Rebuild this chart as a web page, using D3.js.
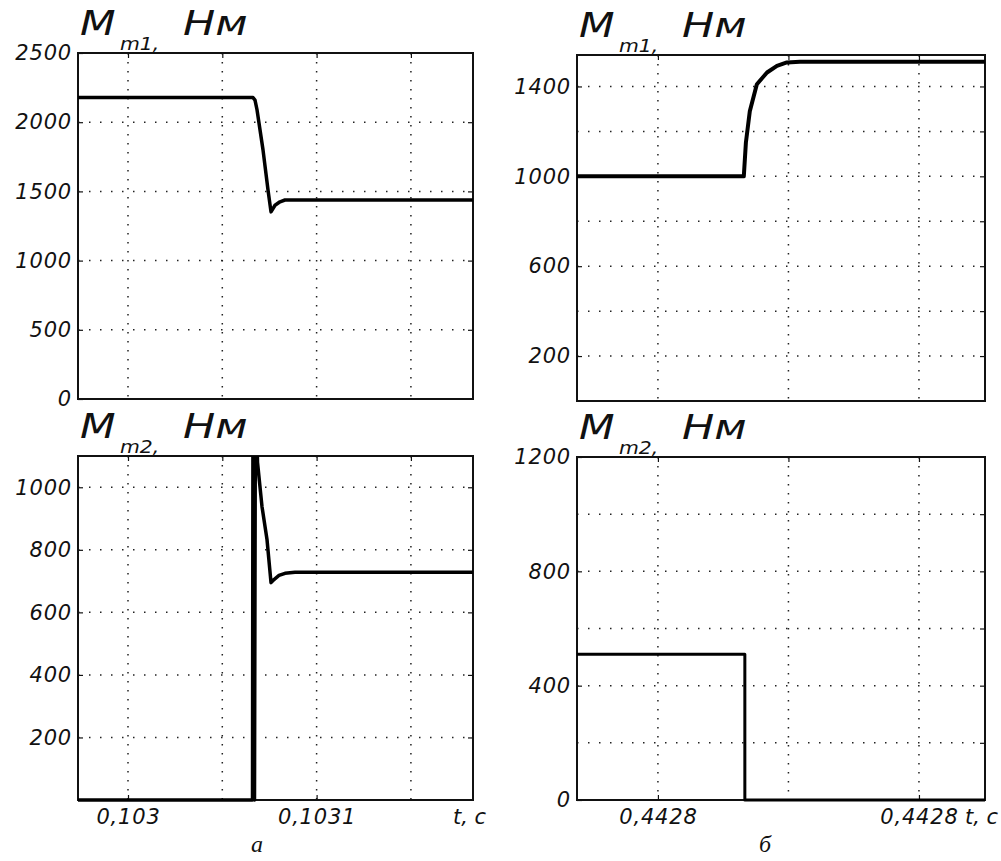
<!DOCTYPE html>
<html>
<head>
<meta charset="utf-8">
<script src="https://cdn.jsdelivr.net/npm/d3@7/dist/d3.min.js"></script>
<style>
  body { margin: 0; background: #fff; }
  svg { display: block; }
  .tick text { font-family: "DejaVu Sans", sans-serif; font-style: italic; font-size: 21px; fill: #111; letter-spacing: 0.8px; }
  .ttl { font-family: "DejaVu Sans", sans-serif; font-style: italic; fill: #111; }
  .cap { font-family: "Liberation Serif", serif; font-style: italic; font-size: 24px; fill: #111; }
</style>
</head>
<body>
<svg id="chart" width="1001" height="861"></svg>
<script>
// panel a, top: M_m1 (time in s, torque in Nm)
var a1Time = [0.10297349, 0.10306628, 0.10306734, 0.1030684, 0.10307158, 0.10307423,
              0.10307582, 0.10307794, 0.10308059, 0.10308324, 0.10318292];
var a1Torque = [2178, 2178, 2160, 2090, 1800, 1510, 1352, 1400, 1425, 1438, 1438];

// panel a, bottom: M_m2
var a2Time = [0.10297349, 0.10306601, 0.10306628, 0.10306707, 0.1030676, 0.10306866,
              0.10307105, 0.1030737, 0.10307582, 0.10307741, 0.10308006, 0.10308324,
              0.10308854, 0.10318292];
var a2Torque = [0, 0, 1400, 0, 1400, 1080, 938, 833, 695, 705, 718, 725, 728, 728];

// panel б, top: M_m1
var b1Time = [0.4427969, 0.44280329, 0.44280337, 0.44280352, 0.44280379, 0.44280418,
              0.44280456, 0.44280494, 0.44280544, 0.44281253];
var b1Torque = [1000, 1000, 1150, 1290, 1410, 1462, 1492, 1507, 1510, 1510];

// panel б, bottom: M_m2
var b2Time = [0.4427969, 0.44280333, 0.44280333, 0.44281253];
var b2Torque = [510, 510, 0, 0];

var aDomain = [0.10297349, 0.10318292];
var bDomain = [0.4427969, 0.44281253];

var aGridX = [0.103, 0.10305, 0.1031, 0.10315];
var bGridX = [0.4428, 0.442805, 0.44281];
var aTickX = [0.103, 0.1031];
var aTickXLabels = ['0,103', '0,1031'];
var bTickX = [0.4428, 0.44281];
var bTickXLabels = ['0,4428', '0,4428'];

var a1TickY = [0, 500, 1000, 1500, 2000, 2500];
var a1GridY = [500, 1000, 1500, 2000];
var a2TickY = [200, 400, 600, 800, 1000];
var a2GridY = [200, 400, 600, 800, 1000];
var b1TickY = [200, 600, 1000, 1400];
var b1GridY = [200, 400, 600, 800, 1000, 1200, 1400];
var b2TickY = [0, 400, 800, 1200];
var b2GridY = [200, 400, 600, 800, 1000];

var svg = d3.select('#chart');

var panels = [
  { id: 'a1', x0: 78, x1: 473, y0: 53, y1: 399, xd: aDomain, yd: [0, 2500],
    t: a1Time, v: a1Torque, gx: aGridX, gy: a1GridY, ty: a1TickY, lw: 3.5, sub: 'm1,' },
  { id: 'a2', x0: 78, x1: 473, y0: 456, y1: 800, xd: aDomain, yd: [0, 1100],
    t: a2Time, v: a2Torque, gx: aGridX, gy: a2GridY, ty: a2TickY, lw: 3.5, sub: 'm2,',
    tx: aTickX, txl: aTickXLabels },
  { id: 'b1', x0: 577, x1: 985, y0: 55, y1: 401, xd: bDomain, yd: [0, 1540],
    t: b1Time, v: b1Torque, gx: bGridX, gy: b1GridY, ty: b1TickY, lw: 4, sub: 'm1,' },
  { id: 'b2', x0: 577, x1: 985, y0: 457, y1: 800, xd: bDomain, yd: [0, 1200],
    t: b2Time, v: b2Torque, gx: bGridX, gy: b2GridY, ty: b2TickY, lw: 3, sub: 'm2,',
    tx: bTickX, txl: bTickXLabels }
];

panels.forEach(function(p) {
  var x = d3.scaleLinear().domain(p.xd).range([p.x0, p.x1]);
  var y = d3.scaleLinear().domain(p.yd).range([p.y1, p.y0]);
  var g = svg.append('g');

  g.append('clipPath').attr('id', 'clip-' + p.id)
    .append('rect')
    .attr('x', p.x0).attr('y', p.y0)
    .attr('width', p.x1 - p.x0).attr('height', p.y1 - p.y0 + 3);

  // dotted grid
  g.selectAll('.gx').data(p.gx).enter().append('line')
    .attr('x1', d => x(d)).attr('x2', d => x(d))
    .attr('y1', p.y0).attr('y2', p.y1)
    .attr('stroke', '#222').attr('stroke-width', 1.5)
    .attr('stroke-dasharray', '1.5,7.5');
  g.selectAll('.gy').data(p.gy).enter().append('line')
    .attr('x1', p.x0).attr('x2', p.x1)
    .attr('y1', d => y(d)).attr('y2', d => y(d))
    .attr('stroke', '#222').attr('stroke-width', 1.5)
    .attr('stroke-dasharray', '1.5,9.5');

  // y labels and inner ticks
  g.append('g')
    .attr('transform', `translate(${p.x0},0)`)
    .call(d3.axisLeft(y).tickValues(p.ty).tickSize(-5).tickPadding(6).tickFormat(d3.format('d')))
    .call(ax => ax.select('.domain').remove());
  g.append('g')
    .attr('transform', `translate(${p.x1},0)`)
    .call(d3.axisRight(y).tickValues(p.gy).tickSize(-5).tickFormat(''))
    .call(ax => ax.select('.domain').remove());
  g.append('g')
    .attr('transform', `translate(0,${p.y0})`)
    .call(d3.axisTop(x).tickValues(p.gx).tickSize(-5).tickFormat(''))
    .call(ax => ax.select('.domain').remove());
  var bottomAxis = d3.axisBottom(x).tickValues(p.tx || []).tickSize(-5).tickPadding(9);
  if (p.tx) bottomAxis.tickFormat((d, i) => p.txl[i]);
  g.append('g')
    .attr('transform', `translate(0,${p.y1})`)
    .call(bottomAxis)
    .call(ax => ax.select('.domain').remove());
  g.selectAll('.tick line').attr('stroke', '#111').attr('stroke-width', 1.2);

  // frame
  g.append('rect')
    .attr('x', p.x0).attr('y', p.y0)
    .attr('width', p.x1 - p.x0).attr('height', p.y1 - p.y0)
    .attr('fill', 'none').attr('stroke', '#111').attr('stroke-width', 2);

  // curve
  var pts = p.t.map((t, i) => [t, p.v[i]]);
  g.append('path')
    .datum(pts)
    .attr('clip-path', `url(#clip-${p.id})`)
    .attr('fill', 'none')
    .attr('stroke', '#000')
    .attr('stroke-width', p.lw)
    .attr('stroke-linejoin', 'round')
    .attr('d', d3.line().x(d => x(d[0])).y(d => y(d[1])));

  // title M_m, Нм
  var ty = p.y0 - 18;
  g.append('text').attr('class', 'ttl')
    .attr('transform', `translate(${p.x0 + 2},${ty}) scale(1.25,1)`)
    .style('font-size', '33px').text('M');
  g.append('text').attr('class', 'ttl')
    .attr('transform', `translate(${p.x0 + 42},${ty + 15}) scale(1.2,1)`)
    .style('font-size', '17px').text(p.sub);
  g.append('text').attr('class', 'ttl')
    .attr('transform', `translate(${p.x0 + 105},${ty}) scale(1.3,1)`)
    .style('font-size', '33px').text('Нм');

  if (p.tx) {
    g.append('text')
      .attr('x', p.x1 - 20).attr('y', p.y1 + 24)
      .style('font-family', '"DejaVu Sans", sans-serif')
      .style('font-style', 'italic').style('font-size', '21px')
      .style('fill', '#111')
      .text('t, с');
  }
});

svg.append('text').attr('class', 'cap').attr('x', 257).attr('y', 852)
  .attr('text-anchor', 'middle').text('а');
svg.append('text').attr('class', 'cap').attr('x', 765).attr('y', 852)
  .attr('text-anchor', 'middle').text('б');
</script>
</body>
</html>
